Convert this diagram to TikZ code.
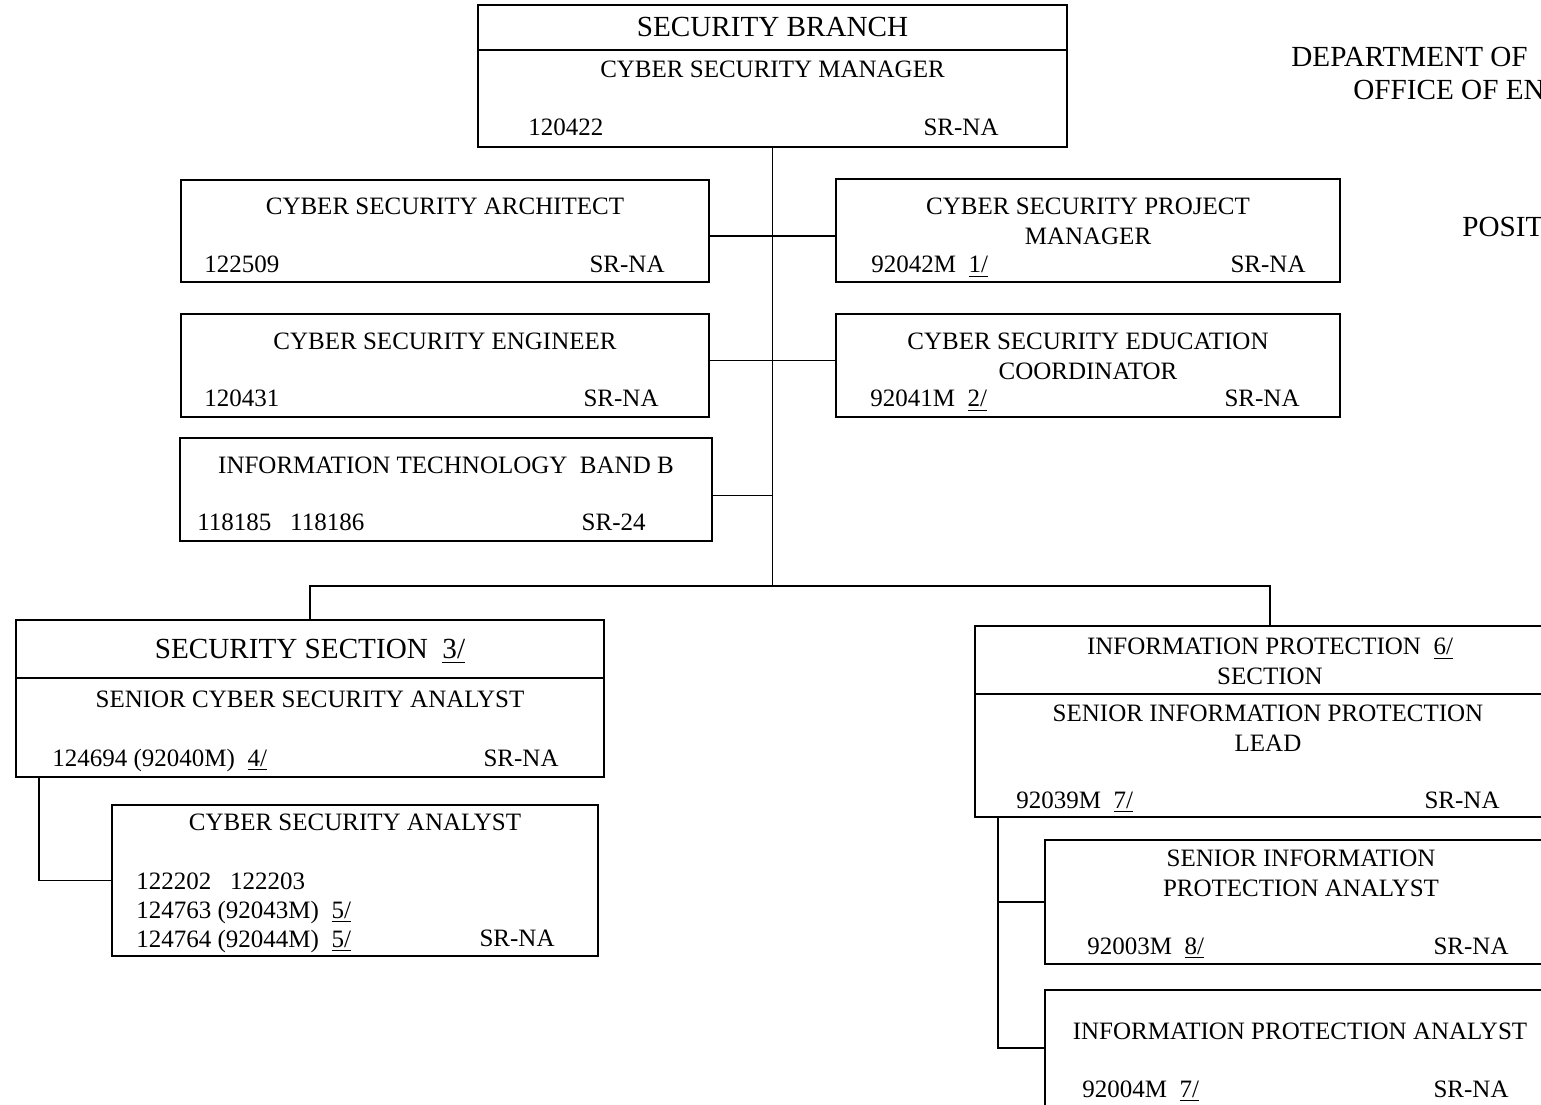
\documentclass[tikz,border=0pt]{standalone}
\usepackage{fontspec}
\setmainfont{Liberation Serif}
\usepackage{tikz}
\usetikzlibrary{calc}
\tikzstyle{box} = [rectangle, draw=black, line width=0.8pt, anchor=north west, inner sep=0pt, outer sep=0pt]
\tikzstyle{txt} = [font=\fontsize{12}{14}\selectfont, inner sep=0pt, align=center, anchor=north]
\tikzstyle{big} = [font=\fontsize{14}{16.8}\selectfont, inner sep=0pt, anchor=north]
\tikzstyle{numl} = [font=\fontsize{12}{14}\selectfont, inner sep=0pt, anchor=base west]
\tikzstyle{numr} = [font=\fontsize{12}{14}\selectfont, inner sep=0pt, anchor=base east]
\tikzstyle{line} = [line width=0.8pt]
\tikzset{boxsize/.style 2 args={minimum width=#1*0.48pt, minimum height=#2*0.48pt}}

\begin{document}
\begin{tikzpicture}[x=0.48pt, y=-0.48pt]
        \useasboundingbox (0,0) rectangle (1541,1105);
        \clip (0,0) rectangle (1541,1105);

        % Blocks
        \node (branch) [box, boxsize={589}{142}] at (478,5) {};
        \node (arch) [box, boxsize={528}{102}] at (181,180) {};
        \node (pm) [box, boxsize={504}{103}] at (836,179) {};
        \node (eng) [box, boxsize={528}{103}] at (181,314) {};
        \node (edu) [box, boxsize={504}{103}] at (836,314) {};
        \node (it) [box, boxsize={532}{103}] at (180,438) {};
        \node (secsec) [box, boxsize={588}{157}] at (16,620) {};
        \node (csa) [box, boxsize={486}{151}] at (112,805) {};
        \node (ipsec) [box, boxsize={590}{191}] at (975,626) {};
        \node (sipa) [box, boxsize={512}{124}] at (1045,840) {};
        \node (ipa) [box, boxsize={512}{116}] at (1045,990) {};
        \draw [line] ($(branch.north west)+(0,45)$) -- ($(branch.north east)+(0,45)$);
        \draw [line] ($(secsec.north west)+(0,58)$) -- ($(secsec.north east)+(0,58)$);
        \draw [line] ($(ipsec.north west)+(0,68)$) -- ($(ipsec.north east)+(0,68)$);

        % Texts
        \node (branchT) [big] at (772.5,17) {SECURITY BRANCH};
        \node (branchP) [txt] at (772.5,61) {CYBER SECURITY MANAGER};
        \node (branchN) [numl] at (528,136) {120422};
        \node (branchG) [numr] at (999,136) {SR-NA};

        \node (archT) [txt] at (445,198) {CYBER SECURITY ARCHITECT};
        \node (archN) [numl] at (204,273) {122509};
        \node (archG) [numr] at (665,273) {SR-NA};

        \node (pmT) [txt] at (1088,198) {CYBER SECURITY PROJECT\\MANAGER};
        \node (pmN) [numl] at (871,273) {92042M~~\underline{1/}};
        \node (pmG) [numr] at (1306,273) {SR-NA};

        \node (engT) [txt] at (445,333) {CYBER SECURITY ENGINEER};
        \node (engN) [numl] at (204,407) {120431};
        \node (engG) [numr] at (659,407) {SR-NA};

        \node (eduT) [txt] at (1088,333) {CYBER SECURITY EDUCATION\\COORDINATOR};
        \node (eduN) [numl] at (870,407) {92041M~~\underline{2/}};
        \node (eduG) [numr] at (1300,407) {SR-NA};

        \node (itT) [txt] at (446,457) {INFORMATION TECHNOLOGY~~BAND B};
        \node (itN) [numl] at (197,531) {118185~~~118186};
        \node (itG) [numr] at (646,531) {SR-24};

        \node (secsecT) [big] at (310,639) {SECURITY SECTION~~\underline{3/}};
        \node (secsecP) [txt] at (310,691) {SENIOR CYBER SECURITY ANALYST};
        \node (secsecN) [numl] at (52,766) {124694 (92040M)~~\underline{4/}};
        \node (secsecG) [numr] at (559,766) {SR-NA};

        \node (csaT) [txt] at (355,814) {CYBER SECURITY ANALYST};
        \node (csaN) [txt, align=left, anchor=north west] at (136,872) {122202~~~122203\\124763 (92043M)~~\underline{5/}\\124764 (92044M)~~\underline{5/}};
        \node (csaG) [numr] at (555,946) {SR-NA};

        \node (ipsecT) [txt] at (1270,638) {INFORMATION PROTECTION~~\underline{6/}\\SECTION};
        \node (ipsecP) [txt] at (1268,705) {SENIOR INFORMATION PROTECTION\\LEAD};
        \node (ipsecN) [numl] at (1016,808) {92039M~~\underline{7/}};
        \node (ipsecG) [numr] at (1500,808) {SR-NA};

        \node (sipaT) [txt] at (1301,850) {SENIOR INFORMATION\\PROTECTION ANALYST};
        \node (sipaN) [numl] at (1087,954) {92003M~~\underline{8/}};
        \node (sipaG) [numr] at (1509,954) {SR-NA};

        \node (ipaT) [txt] at (1300,1023) {INFORMATION PROTECTION ANALYST};
        \node (ipaN) [numl] at (1082,1097) {92004M~~\underline{7/}};
        \node (ipaG) [numr] at (1509,1097) {SR-NA};

        % Heading
        \node (dept) [big, anchor=north west] at (1291,47) {DEPARTMENT OF};
        \node (office) [big, anchor=north west] at (1353,80) {OFFICE OF EN};
        \node (posit) [big, anchor=north west] at (1462,217) {POSIT};

        % Lines
        \coordinate (bus) at (772.5,586);
        \draw [line] (branch.south) -- (bus);
        \draw [line] ($(arch.east)+(0,5)$) -- ($(pm.west)+(0,5.5)$);
        \draw [line] ($(eng.east)+(0,-5)$) -- ($(edu.west)+(0,-5)$);
        \draw [line] ($(it.east)+(0,6)$) -- ($(it.east -| bus)+(0,6)$);
        \draw [line] (secsec.north) |- (bus) -| (ipsec.north);
        \draw [line] ($(secsec.south west)+(23,0)$) |- (csa.west);
        \coordinate (ipdrop) at ($(ipsec.south west)+(23,0)$);
        \draw [line] (ipdrop) |- (ipa.west);
        \draw [line] (ipdrop |- sipa.west) -- (sipa.west);
    \end{tikzpicture}
\end{document}
